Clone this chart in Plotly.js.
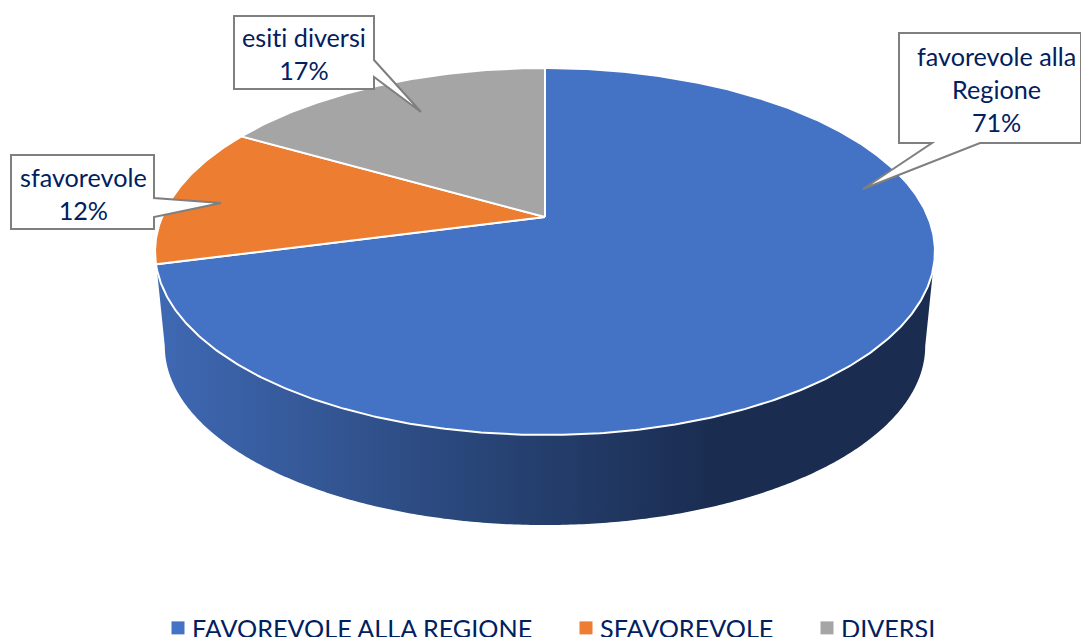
<!DOCTYPE html>
<html>
<head>
<meta charset="utf-8">
<script src="https://cdn.plot.ly/plotly-3.0.1.min.js"></script>
<style>html,body{margin:0;padding:0;background:#fff;overflow:hidden;width:1081px;height:637px}
svg text{font-variant-ligatures:none !important;font-feature-settings:"liga" 0 !important}</style>
</head>
<body>
<div id="chart" style="width:1081px;height:650px"></div>
<script>
// Data
const categories = ['FAVOREVOLE ALLA REGIONE', 'SFAVOREVOLE', 'DIVERSI'];
const values = [70.9, 12.4, 16.7];
const calloutNames = ['favorevole alla<br>Regione', 'sfavorevole', 'esiti diversi'];
const colors = ['#4472C4', '#ED7D31', '#A5A5A5'];

// Perspective view of the pie disc
const W = 1081, H = 650;
const CX = 545, CY = 217, R = 383, PERSP = 0.188, TILT = 177;
const BASE_SCALE = 0.975, BASE_CY = 312.5;
const FONT = 'Lato, "Open Sans", sans-serif';
const INK = '#002060';

function project(deg, scale, cy) {
  const t = deg * Math.PI / 180, e = Math.sin(t), d = Math.cos(t), w = 1 + PERSP * d;
  return [CX + scale * R * e / w, cy - scale * TILT * d / w];
}
function arc(from, to, scale, cy) {
  const pts = [], n = Math.max(2, Math.ceil(Math.abs(to - from) * 2));
  for (let i = 0; i <= n; i++) pts.push(project(from + (to - from) * i / n, scale, cy));
  return pts;
}

const total = values.reduce((a, b) => a + b, 0);
const traces = [];

// Side wall: bottom rim and top rim joined along the silhouette
const silhouetteA = Math.acos(-PERSP) * 180 / Math.PI;
const wall = arc(silhouetteA, 360 - silhouetteA, 1, CY)
  .concat(arc(360 - silhouetteA, silhouetteA, BASE_SCALE, BASE_CY));
traces.push({
  type: 'scatter', mode: 'none', x: wall.map(p => p[0]), y: wall.map(p => p[1]),
  fill: 'toself', hoverinfo: 'skip', showlegend: false,
  fillgradient: {type: 'horizontal', colorscale: [
    [0, '#3F69B4'], [0.3, '#2F4F88'], [0.5, '#243E6C'], [0.72, '#1A2C50'], [1, '#1A2C50']
  ]}
});

// Top face slices
let cum = 0;
values.forEach((v, i) => {
  const a0 = cum / total * 360, a1 = (cum + v) / total * 360;
  cum += v;
  const pts = [[CX, CY]].concat(arc(a0, a1, 1, CY)).concat([[CX, CY]]);
  traces.push({
    type: 'scatter', mode: 'lines', x: pts.map(p => p[0]), y: pts.map(p => p[1]),
    fill: 'toself', fillcolor: colors[i], line: {color: '#ffffff', width: 2},
    name: categories[i], hoverinfo: 'name', showlegend: false
  });
});

// Legend entries
const legendIds = ['legend', 'legend2', 'legend3'];
const legendLeft = [158, 566, 807];
categories.forEach((c, i) => {
  traces.push({
    type: 'scatter', mode: 'markers', x: [null], y: [null], name: c,
    marker: {symbol: 'square', size: 13, color: colors[i]},
    legend: legendIds[i], showlegend: true
  });
});

// Callouts: box outline including the pointer
const calloutPaths = [
  'M899,33 H1081 V143 H980 L863,189 L932,143 H899 Z',
  'M11,155 H154 V198 L221,203 L154,217 V229 H11 Z',
  'M234,16 H374 V60 L421,112 L374,77 V89 H234 Z'
];
const calloutCenters = [[996, 89], [83, 193], [304, 53]];

const layout = {
  width: W, height: H, margin: {l: 0, r: 0, t: 0, b: 0, autoexpand: false},
  paper_bgcolor: '#fff', plot_bgcolor: '#fff',
  xaxis: {range: [0, W], visible: false, fixedrange: true},
  yaxis: {range: [H, 0], visible: false, fixedrange: true},
  font: {family: FONT, color: INK},
  shapes: calloutPaths.map(p => ({
    type: 'path', path: p, xref: 'x', yref: 'y', layer: 'above',
    fillcolor: '#ffffff', line: {color: '#7F7F7F', width: 2}
  })),
  annotations: calloutNames.map((n, i) => ({
    x: calloutCenters[i][0], y: calloutCenters[i][1], xref: 'x', yref: 'y',
    text: n + '<br>' + Math.round(values[i] / total * 100) + '%',
    showarrow: false, align: 'center', xanchor: 'center', yanchor: 'middle',
    font: {family: FONT, size: 25.2, color: INK}
  }))
};
legendIds.forEach((id, i) => {
  layout[id] = {
    orientation: 'h', x: legendLeft[i] / W, xanchor: 'left', y: 1 - 605 / H, yanchor: 'top',
    bgcolor: 'rgba(0,0,0,0)', borderwidth: 0, indentation: -6, itemclick: false, itemdoubleclick: false,
    font: {family: FONT, size: 25.2, color: INK}
  };
});

Plotly.newPlot('chart', traces, layout, {displayModeBar: false, responsive: false}).then(() => {
  // The reference keeps its legend squares closer to the text
  document.querySelectorAll('#chart .legendsymbols').forEach(g => g.setAttribute('transform', 'translate(6,0)'));
});
</script>
</body>
</html>
